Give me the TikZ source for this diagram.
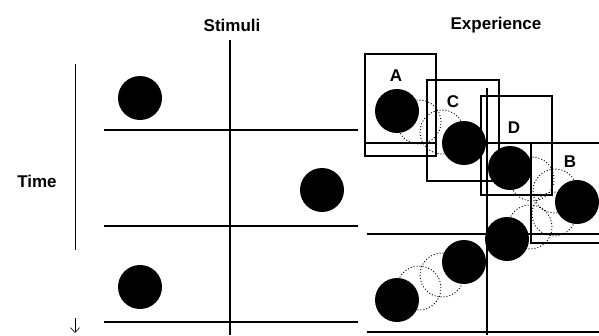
\documentclass[tikz,border=0pt]{standalone}
\usepackage{fontspec}
\setmainfont{Liberation Sans}
\usetikzlibrary{arrows.meta}
\begin{document}
\begin{tikzpicture}[x=1pt,y=-1pt,
  rule/.style={line width=1.5pt},
  thinrule/.style={line width=0.6pt},
  box/.style={line width=1.5pt},
  dot/.style={circle,fill=black,minimum size=44pt,inner sep=0pt},
  ghost/.style={circle,draw=black,dash pattern=on 1pt off 2pt,line width=0.9pt,minimum size=44pt,inner sep=0pt},
  lab/.style={font=\fontsize{17}{19}\selectfont\bfseries,inner sep=0pt},
  blab/.style={font=\fontsize{17}{19}\selectfont\bfseries,inner sep=0pt}]
\useasboundingbox (0,0) rectangle (599,335);
% headings
\node[lab] (stim) at (232,25) {Stimuli};
\node[lab] (exp) at (496,25) {Experience};
\node[lab] (time) at (37,181) {Time};
% time axis
\coordinate (t1) at (75,64);
\coordinate (t2) at (75,250);
\draw[thinrule] (t1) -- (t2);
\coordinate (t3) at (75,318);
\coordinate (t4) at (75,333);
\draw[thinrule,-{Straight Barb[length=5pt,width=9pt,line width=0.6pt]}] (t3) -- (t4);
% stimuli grid
\coordinate (sv1) at (230,40);
\coordinate (sv2) at (230,335);
\draw[rule] (sv1) -- (sv2);
\foreach \y/\n in {130/a,226/b,322/c}{
  \coordinate (sl\n) at (104,\y);
  \coordinate (sr\n) at (358,\y);
  \draw[rule] (sl\n) -- (sr\n);
}
\node[dot] (s1) at (140,98) {};
\node[dot] (s2) at (322,190) {};
\node[dot] (s3) at (140,287) {};
% experience grid
\coordinate (ev1) at (487,88);
\coordinate (ev2) at (487,335);
\draw[rule] (ev1) -- (ev2);
\coordinate (r2l) at (367,234); \coordinate (r2r) at (599,234);
\coordinate (r3l) at (367,332); \coordinate (r3r) at (599,332);
\draw[rule] (r2l) -- (r2r);
\draw[rule] (r3l) -- (r3r);
\coordinate (r1l) at (365,143); \coordinate (r1m) at (436,143);
\draw[rule] (r1l) -- (r1m);
\coordinate (r1n) at (487,143); \coordinate (r1r) at (599,143);
\draw[rule] (r1n) -- (r1r);
\coordinate (bb1) at (531,243); \coordinate (bb2) at (599,243);
\draw[rule] (bb1) -- (bb2);
% boxes
\draw[box] (365,54) rectangle (436,156);
\draw[box] (427,80) rectangle (499,181);
\draw[box] (481,96) rectangle (552,195);
\draw[box] (605,143) -- (531,143) -- (531,243) -- (605,243);
% labels
\node[blab] (la) at (396,76) {A};
\node[blab] (lc) at (453,102) {C};
\node[blab] (ld) at (514,128) {D};
\node[blab] (lb) at (570,162) {B};
% ghost (dotted) positions
\node[ghost] (g1) at (419,122) {};
\node[ghost] (g2) at (442,132) {};
\node[ghost] (g3) at (532,179) {};
\node[ghost] (g4) at (555,191) {};
\node[ghost] (g5) at (530,227) {};
\node[ghost] (g6) at (554,214) {};
\node[ghost] (g7) at (419,288) {};
\node[ghost] (g8) at (442,275) {};
% experienced dots
\node[dot] (ea) at (397,111) {};
\node[dot] (ec) at (464,143) {};
\node[dot] (ed) at (510,168) {};
\node[dot] (eb) at (577,202) {};
\node[dot] (e1) at (507,239) {};
\node[dot] (e2) at (464,262) {};
\node[dot] (e3) at (397,300) {};
\end{tikzpicture}
\end{document}
